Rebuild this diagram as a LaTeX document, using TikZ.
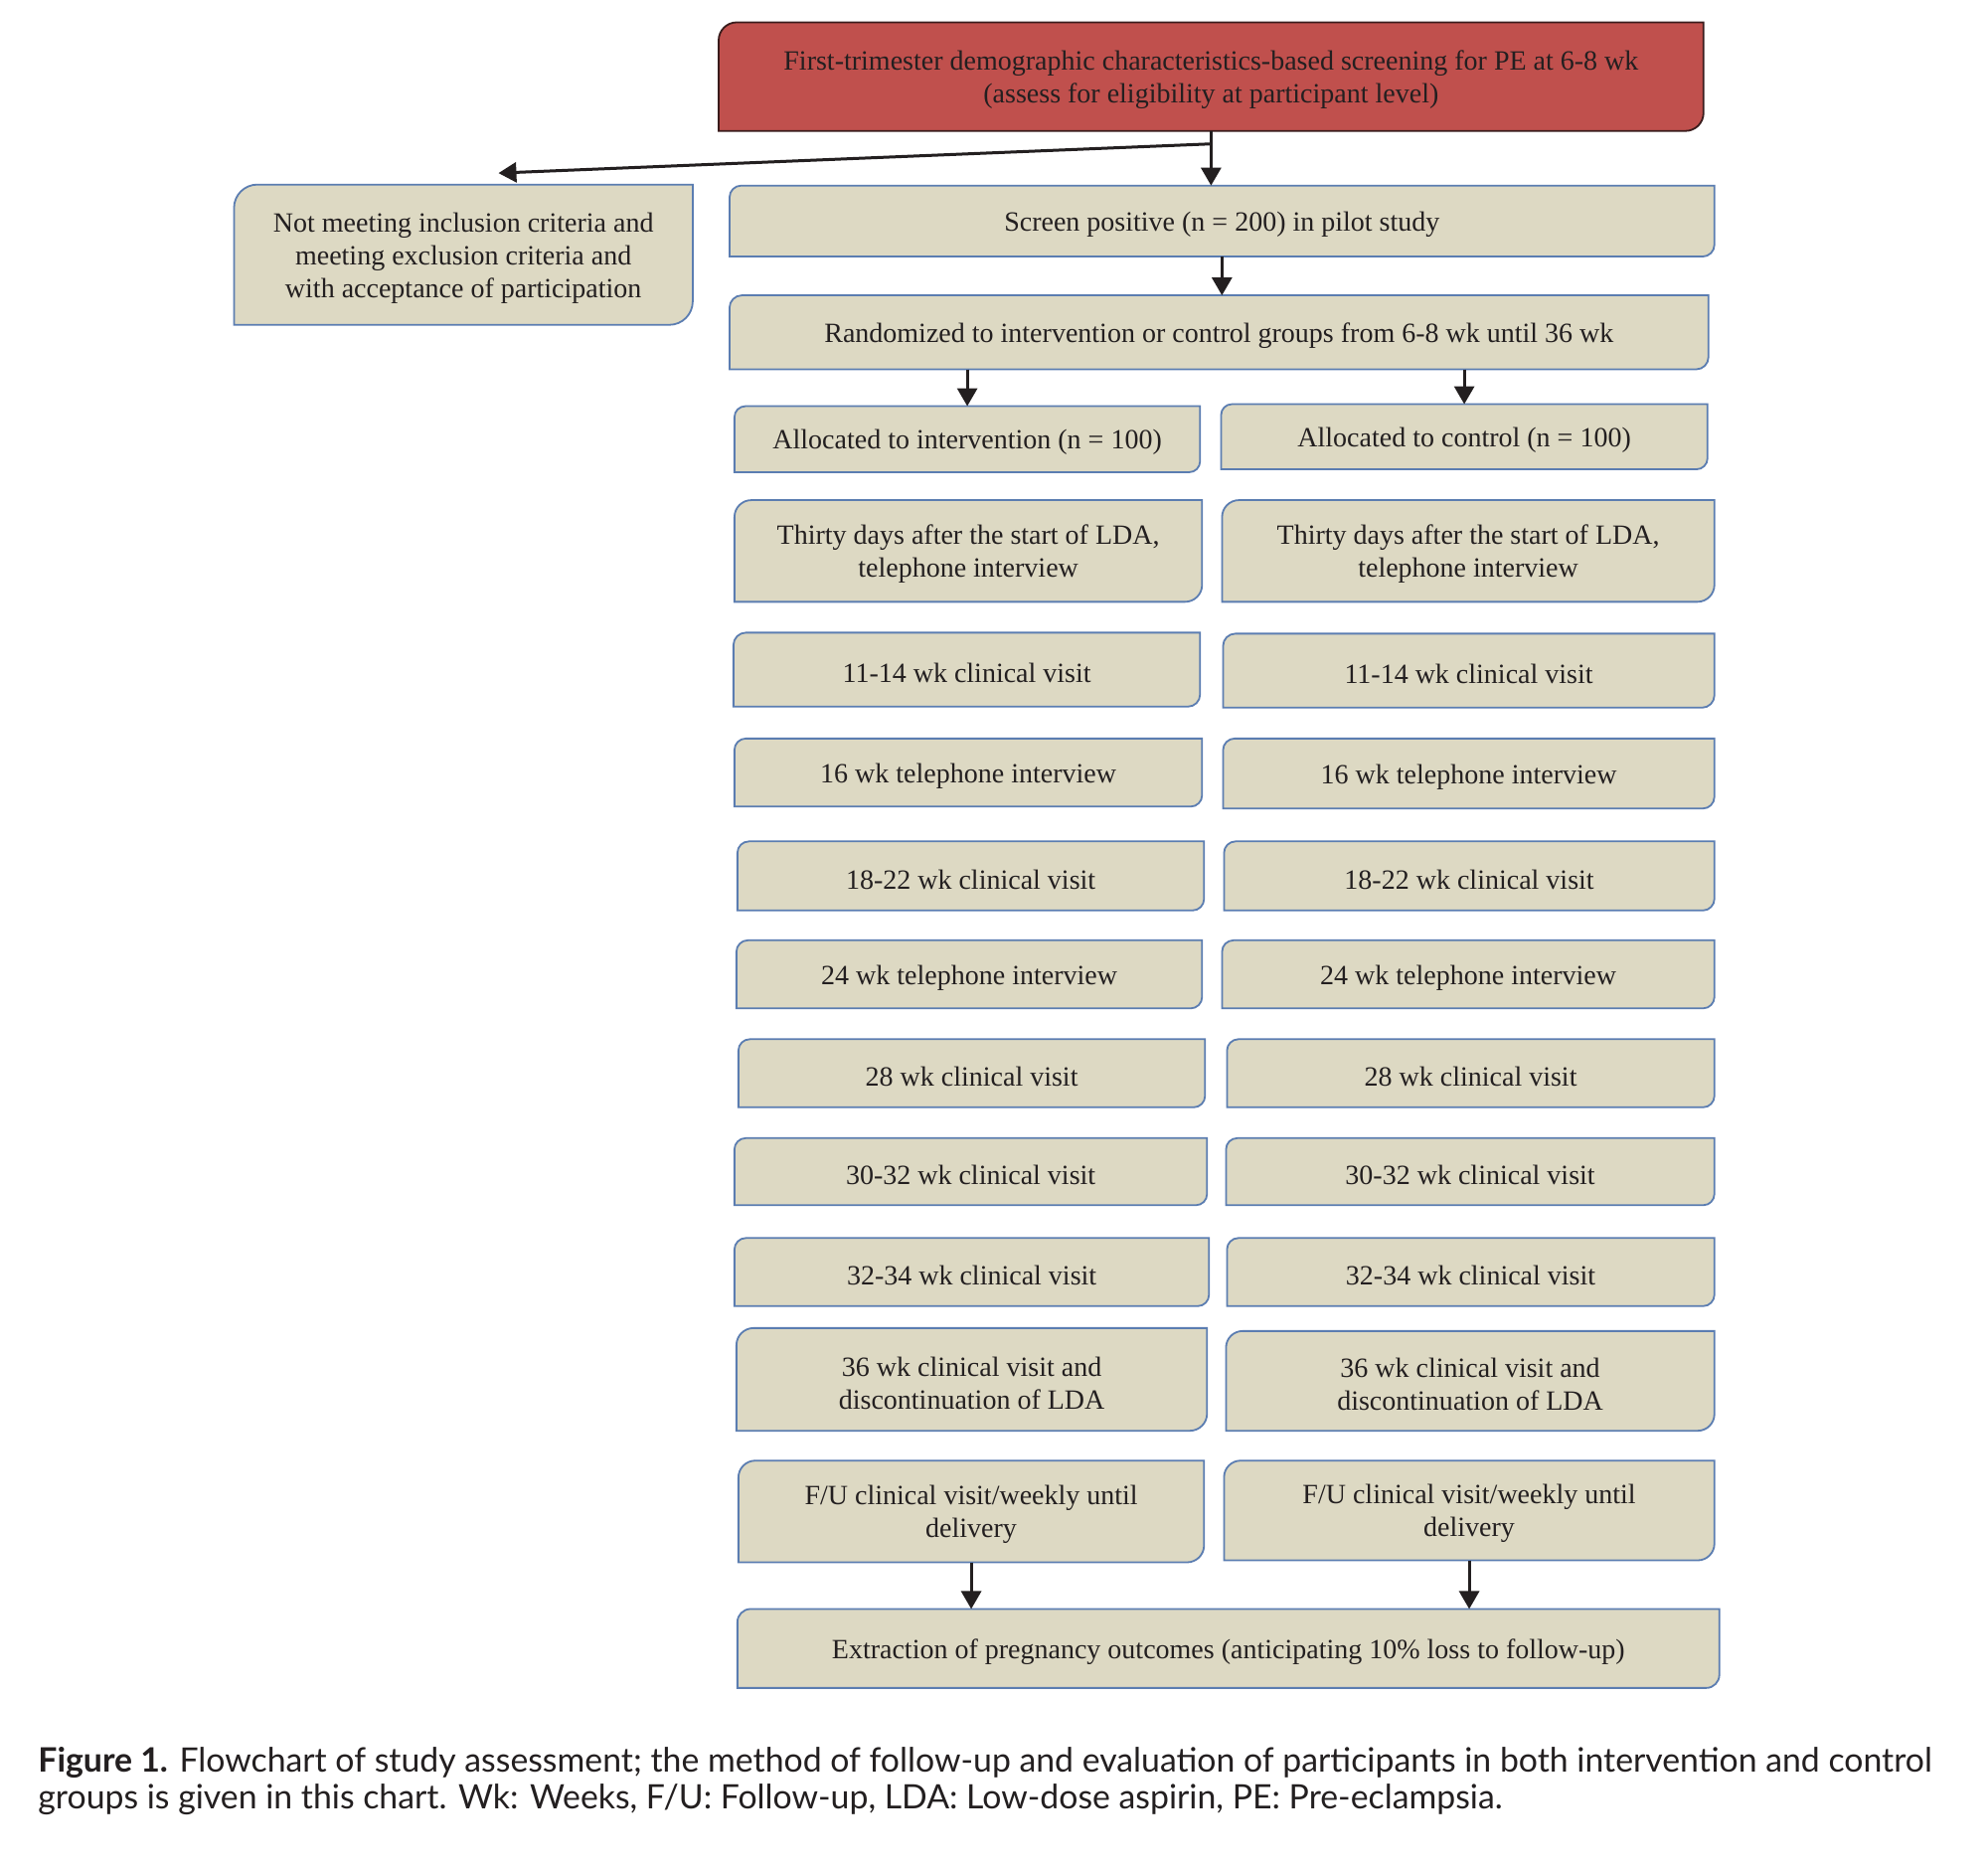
\documentclass[tikz,border=0pt]{standalone}
\usepackage{fontspec}
\setmainfont{Liberation Serif}
\newfontfamily\capfont{Lato}
\usetikzlibrary{calc,backgrounds,arrows.meta}
\definecolor{boxfill}{HTML}{DDD9C3}
\definecolor{boxline}{HTML}{5B7DB1}
\definecolor{redfill}{HTML}{C0504D}
\definecolor{redline}{HTML}{3A1C1C}
\definecolor{txt}{HTML}{231F20}
\begin{document}
\begin{tikzpicture}[x=0.4975pt,y=-0.4975pt,
  bx/.style={inner sep=0pt, draw=none, label={[lbl]center:{#1}}},
  lbl/.style={inner sep=0pt, align=center, text=txt, font=\fontsize{14}{16.5}\selectfont, yshift=-1.7pt},
  bb/.style n args={4}{at={({(#1+#3)/2},{(#2+#4)/2})}, minimum width={(#3-#1)*0.4975pt}, minimum height={(#4-#2)*0.4975pt}},
  arr/.style={line width=1.5pt, draw=txt, -{Triangle[length=9pt,width=10pt]}},
  captxt/.style={anchor=base west, inner sep=0pt, text=txt, font=\capfont\fontsize{16.9}{20}\selectfont},
  shp/.style={line width=0.9pt}
  ]
\useasboundingbox (0,0) rectangle (2010.05,1889.45);
% nodes
\node[bx={First-trimester demographic characteristics-based screening for PE at 6-8 wk\\(assess for eligibility at participant level)}, bb={727}{23}{1722}{132}] (red) {};
\node[bx={Not meeting inclusion criteria and\\meeting exclusion criteria and\\with acceptance of participation}, bb={237}{187}{700}{328}] (nm) {};
\node[bx={Screen positive (n = 200) in pilot study}, bb={738}{188}{1733}{259}] (sp) {};
\node[bx={Randomized to intervention or control groups from 6-8 wk until 36 wk}, bb={738}{299}{1727}{373}] (rand) {};
\node[bx={Allocated to intervention (n = 100)}, bb={743}{411}{1213}{477}] (ai) {};
\node[bx={Allocated to control (n = 100)}, bb={1235}{409}{1726}{474}] (ac) {};
\node[bx={Thirty days after the start of LDA,\\telephone interview}, bb={743}{506}{1215}{608}] (tl) {};
\node[bx={Thirty days after the start of LDA,\\telephone interview}, bb={1236}{506}{1733}{608}] (tr) {};
\node[bx={11-14 wk clinical visit}, bb={742}{640}{1213}{714}] (al) {};
\node[bx={11-14 wk clinical visit}, bb={1237}{641}{1733}{715}] (ar) {};
\node[bx={16 wk telephone interview}, bb={743}{747}{1215}{815}] (bl) {};
\node[bx={16 wk telephone interview}, bb={1237}{747}{1733}{817}] (br) {};
\node[bx={18-22 wk clinical visit}, bb={746}{851}{1217}{920}] (cl) {};
\node[bx={18-22 wk clinical visit}, bb={1238}{851}{1733}{920}] (cr) {};
\node[bx={24 wk telephone interview}, bb={745}{951}{1215}{1019}] (dl) {};
\node[bx={24 wk telephone interview}, bb={1236}{951}{1733}{1019}] (dr) {};
\node[bx={28 wk clinical visit}, bb={747}{1051}{1218}{1119}] (el) {};
\node[bx={28 wk clinical visit}, bb={1241}{1051}{1733}{1119}] (er) {};
\node[bx={30-32 wk clinical visit}, bb={743}{1151}{1220}{1218}] (gl) {};
\node[bx={30-32 wk clinical visit}, bb={1240}{1151}{1733}{1218}] (gr) {};
\node[bx={32-34 wk clinical visit}, bb={743}{1252}{1222}{1320}] (hl) {};
\node[bx={32-34 wk clinical visit}, bb={1241}{1252}{1733}{1320}] (hr) {};
\node[bx={36 wk clinical visit and\\discontinuation of LDA}, bb={745}{1343}{1220}{1446}] (il) {};
\node[bx={36 wk clinical visit and\\discontinuation of LDA}, bb={1240}{1346}{1733}{1446}] (ir) {};
\node[bx={F/U clinical visit/weekly until\\delivery}, bb={747}{1477}{1217}{1579}] (fl) {};
\node[bx={F/U clinical visit/weekly until\\delivery}, bb={1238}{1477}{1733}{1577}] (fr) {};
\node[bx={Extraction of pregnancy outcomes (anticipating 10\% loss to follow-up)}, bb={746}{1627}{1738}{1706}] (ext) {};
% caption
\node[captxt] (cap1) at (38.2,1791) {\textbf{Figure 1.} Flowchart of study assessment; the method of follow-up and evaluation of participants in both intervention and control};
\node[captxt] (cap2) at (38.2,1829) {groups is given in this chart. Wk: Weeks, F/U: Follow-up, LDA: Low-dose aspirin, PE: Pre-eclampsia.};
% shapes
\begin{scope}[on background layer]
\fill[white] (0,0) rectangle (2010.05,1889.45);
\foreach \nd/\fc/\dc in {red/redfill/redline, nm/boxfill/boxline, sp/boxfill/boxline, rand/boxfill/boxline,
  ai/boxfill/boxline, ac/boxfill/boxline, tl/boxfill/boxline, tr/boxfill/boxline, al/boxfill/boxline, ar/boxfill/boxline,
  bl/boxfill/boxline, br/boxfill/boxline, cl/boxfill/boxline, cr/boxfill/boxline, dl/boxfill/boxline, dr/boxfill/boxline,
  el/boxfill/boxline, er/boxfill/boxline, gl/boxfill/boxline, gr/boxfill/boxline, hl/boxfill/boxline, hr/boxfill/boxline,
  il/boxfill/boxline, ir/boxfill/boxline, fl/boxfill/boxline, fr/boxfill/boxline, ext/boxfill/boxline}{
  \path[shp, fill=\fc, draw=\dc] let \p1=($(\nd.north)-(\nd.south)$), \n1={0.1667*\y1} in
    (\nd.south west) -- ([yshift=-\n1]\nd.north west) arc[start angle=180,end angle=90,radius=\n1]
    -- (\nd.north east) -- ([yshift=\n1]\nd.south east) arc[start angle=0,end angle=-90,radius=\n1] -- cycle;
}
\end{scope}
% connectors
\coordinate (j) at ([yshift=-6.5pt]red.south);
\coordinate (nmtip) at (504,175);
\draw[arr] (red.south) -- (red.south |- sp.north);
\draw[arr] (j) -- (nmtip);
\draw[arr] (sp.south) -- (sp.south |- rand.north);
\draw[arr] (ai.north |- rand.south) -- (ai.north);
\draw[arr] (ac.north |- rand.south) -- (ac.north);
\draw[arr] (fl.south) -- (fl.south |- ext.north);
\draw[arr] (fr.south) -- (fr.south |- ext.north);
\end{tikzpicture}
\end{document}
